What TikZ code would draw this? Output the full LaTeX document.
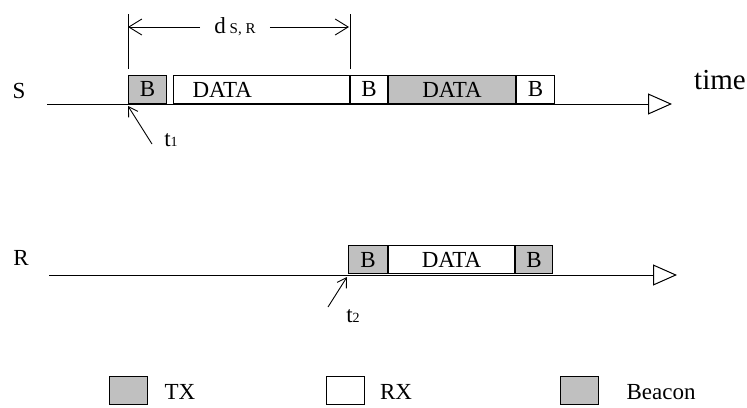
\documentclass[tikz,border=0pt]{standalone}
\usepackage{fontspec}
\setmainfont{Liberation Serif}
\usetikzlibrary{arrows.meta}
\definecolor{slotgray}{RGB}{192,192,192}
\tikzset{
  slot/.style={draw, line width=1pt, minimum height=28pt, inner sep=0pt,
    anchor=south west, font=\fontsize{23}{25}\selectfont},
  txslot/.style={slot, fill=slotgray},
  rxslot/.style={slot, fill=white},
  lbl/.style={font=\fontsize{23}{25}\selectfont},
  timeline/.style={line width=1pt,
    -{Triangle[open, length=24pt, width=21pt, line width=1pt]}},
  dimarrow/.style={line width=0.9pt, -{Straight Barb[length=13pt, width=16pt]}},
  tickarrow/.style={line width=0.9pt, -{Straight Barb[length=9pt, width=11pt]}},
}
\begin{document}
\begin{tikzpicture}[x=1pt, y=-1pt]
  \useasboundingbox (0,0) rectangle (747,407);
  % sender
  \node[lbl] (S) at (19,91) {S};
  \coordinate (s0) at (47,104);
  \coordinate (s1) at (672,104);
  \draw[timeline] (s0) -- (s1);
  \node[txslot, minimum width=38pt] (sb1) at (128,104) {B};
  \node[rxslot, minimum width=176pt, text width=138pt, align=left] (sd1) at (173,104) {DATA};
  \node[rxslot, minimum width=37pt] (sb2) at (sd1.south east) {B};
  \node[txslot, minimum width=127pt] (sd2) at (sb2.south east) {DATA};
  \node[rxslot, minimum width=38pt] (sb3) at (sd2.south east) {B};
  \node[font=\fontsize{29}{31}\selectfont] (time) at (720,80) {time};
  % distance S,R
  \draw[line width=0.9pt] ([yshift=6pt]sb1.north west) -- ([yshift=61pt]sb1.north west);
  \draw[line width=0.9pt] ([yshift=6pt]sb2.north west) -- ([yshift=61pt]sb2.north west);
  \coordinate (dl) at (128,27);
  \coordinate (dr) at (349,27);
  \node[lbl, inner xsep=14pt] (dlab) at (235,27) {d\,{\fontsize{15}{15}\selectfont S, R}};
  \draw[dimarrow] (dlab) -- (dl);
  \draw[dimarrow] (dlab) -- (dr);
  \node[lbl] (t1) at (171,140) {t{\fontsize{14}{14}\selectfont 1}};
  \coordinate (t1tail) at (152,144);
  \coordinate (t1tip) at (128,106);
  \draw[tickarrow] (t1tail) -- (t1tip);
  % receiver
  \node[lbl] (R) at (21,258) {R};
  \coordinate (r0) at (49,275);
  \coordinate (r1) at (677,275);
  \draw[timeline] (r0) -- (r1);
  \node[txslot, minimum width=39pt] (rb1) at (348,274) {B};
  \node[rxslot, minimum width=126pt] (rd1) at (rb1.south east) {DATA};
  \node[txslot, minimum width=37pt] (rb2) at (rd1.south east) {B};
  \node[lbl] (t2) at (353,316) {t{\fontsize{14}{14}\selectfont 2}};
  \coordinate (t2tail) at (328,307);
  \coordinate (t2tip) at (347,277);
  \draw[tickarrow] (t2tail) -- (t2tip);
  % legend
  \node[txslot, minimum width=38pt] (ktx) at (109,405) {};
  \node[lbl] (ktxl) at (180,392) {TX};
  \node[rxslot, minimum width=38pt] (krx) at (326,405) {};
  \node[lbl] (krxl) at (396,392) {RX};
  \node[txslot, minimum width=38pt] (kbc) at (560,405) {};
  \node[lbl] (kbcl) at (661,392) {Beacon};
\end{tikzpicture}
\end{document}
